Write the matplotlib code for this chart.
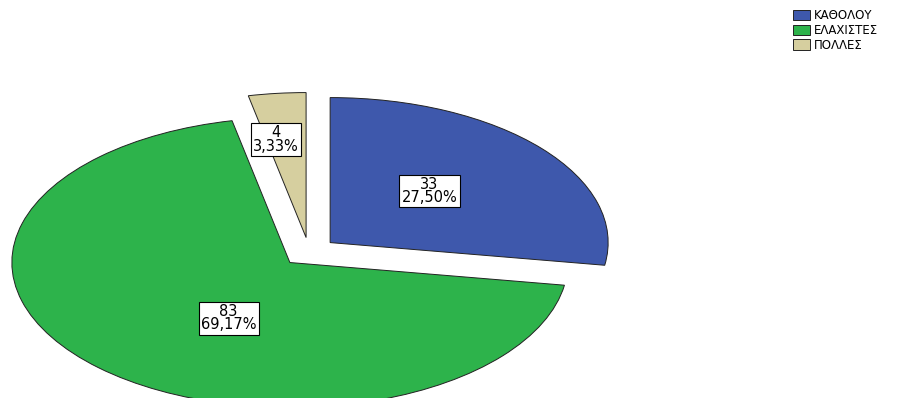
import numpy as np
import matplotlib.pyplot as plt

# answer categories and counts
categories = ["ΚΑΘΟΛΟΥ", "ΕΛΑΧΙΣΤΕΣ", "ΠΟΛΛΕΣ"]
counts = [33, 83, 4]

colors = ["#3E58AC", "#2DB34B", "#D6CF9F"]
# label offsets along each wedge's mid direction (x, y factors)
label_dist = [(0.47, 0.55), (0.32, 0.53), (1.05, 0.68)]

fig = plt.figure(figsize=(9.2, 3.98), dpi=100)
ax = fig.add_axes([0, 0, 1, 1])

wedges, _ = ax.pie(counts, colors=colors, startangle=90, counterclock=False,
                   explode=[0.1, 0.1, 0.1], radius=1.0,
                   wedgeprops=dict(edgecolor="#222222", linewidth=0.7))

# stretch the pie into an ellipse
ax.set_aspect("auto")
ax.set_xlim(-309 / 278, (920 - 309) / 278)
ax.set_ylim(-(398 - 252) / 145, 252 / 145)
ax.axis("off")

total = sum(counts)
for w, n, (rx, ry) in zip(wedges, counts, label_dist):
    mid = np.deg2rad((w.theta1 + w.theta2) / 2)
    cx, cy = w.center
    pct = f"{100 * n / total:.2f}".replace(".", ",")
    ax.text(cx + rx * np.cos(mid), cy + ry * np.sin(mid), f"{n}\n{pct}%",
            ha="center", va="center", fontsize=10.5, linespacing=0.85,
            bbox=dict(boxstyle="square,pad=0.15", fc="white", ec="black", lw=0.8))

fig.legend(wedges, categories, loc="upper left", bbox_to_anchor=(793 / 920, 1 - 9 / 398),
           frameon=False, fontsize=8.5, borderpad=0, borderaxespad=0,
           handlelength=1.4, handleheight=0.95, handletextpad=0.35, labelspacing=0.15)

fig.savefig("out.png", dpi=100)
